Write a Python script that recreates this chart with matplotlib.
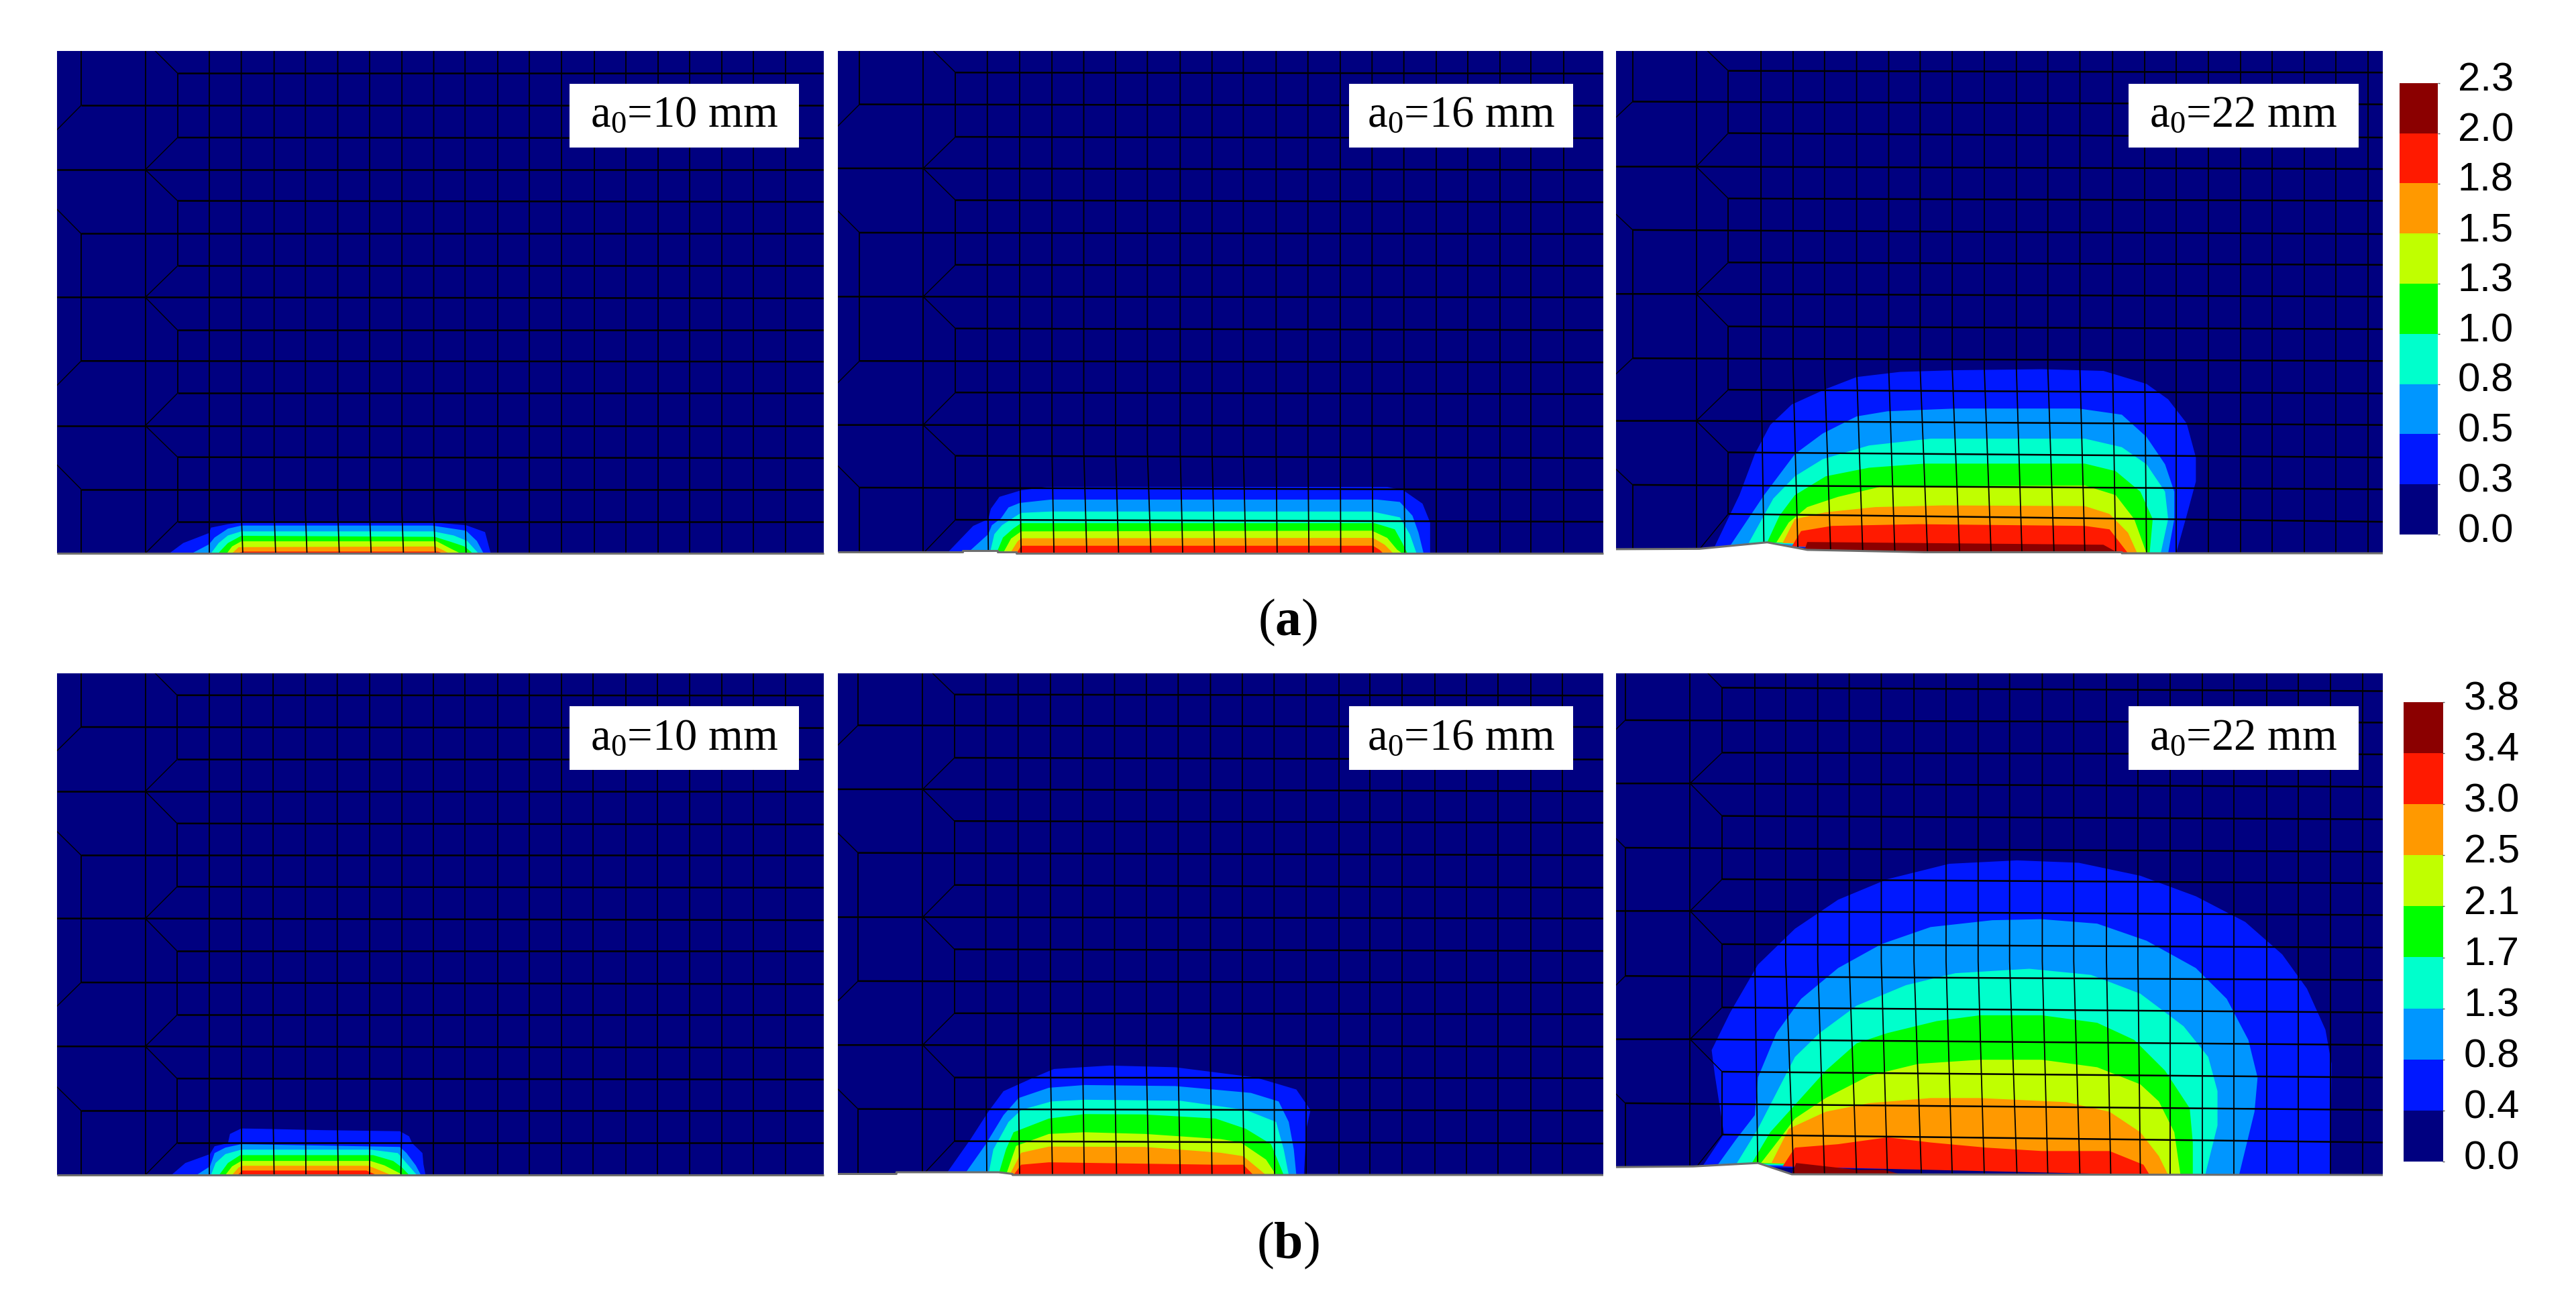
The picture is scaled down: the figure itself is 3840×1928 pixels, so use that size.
import numpy as np
import matplotlib
matplotlib.use("Agg")
import matplotlib.pyplot as plt
from matplotlib.colors import ListedColormap
from matplotlib.patches import Polygon, Rectangle

plt.rcParams['mathtext.fontset'] = 'custom'
plt.rcParams['mathtext.rm'] = 'Liberation Serif'
plt.rcParams['mathtext.bf'] = 'Liberation Serif:bold'
plt.rcParams['mathtext.default'] = 'regular'

W, H = 3841, 1928

# couleurs des bandes, du plus faible au plus fort
band_colors = ['#000080', '#0018FF', '#0096FF', '#00FFCC', '#00FF00',
               '#C0FF00', '#FF9900', '#FF1A00', '#8B0000']
ticks_a = ['0.0', '0.3', '0.5', '0.8', '1.0', '1.3', '1.5', '1.8', '2.0', '2.3']
ticks_b = ['0.0', '0.4', '0.8', '1.3', '1.7', '2.1', '2.5', '3.0', '3.4', '3.8']

# ---- a0=10 mm, ligne (a)
a1_xv = [80, 205, 268, 330, 392, 456, 517, 580, 642, 705, 767, 828, 892, 953, 1016, 1080, 1142, 1204, 1265, 1328, 1390, 1452]
a1_xb = [330, 395, 459, 520, 583, 645, 708, 770, 830]
a1_yl = [97, 191, 285, 379, 470, 566, 660, 752, 848, 938, 1032, 1127, 1219, 1313, 1407]
a1_yr = [97, 191, 287, 379, 473, 566, 660, 755, 848, 940, 1032, 1127, 1222, 1313, 1407]
a1_lip = [(33, 1500), (1527, 1500)]
a1_bands = [
    [(252, 1500), (279, 1470), (329, 1441), (333, 1425), (366, 1415), (392, 1410), (766, 1410), (830, 1418), (867, 1438), (878, 1500)],
    [(296, 1500), (329, 1474), (340, 1454), (366, 1428), (392, 1419), (764, 1419), (830, 1434), (851, 1464), (864, 1500)],
    [(333, 1500), (348, 1470), (366, 1448), (392, 1436), (766, 1436), (806, 1448), (832, 1464), (854, 1500)],
    [(347, 1500), (366, 1470), (392, 1449), (769, 1452), (801, 1467), (827, 1480), (843, 1500)],
    [(364, 1500), (374, 1480), (392, 1465), (773, 1465), (801, 1487), (819, 1500)],
    [(374, 1500), (387, 1482), (770, 1480), (784, 1490), (797, 1500)],
    [(385, 1500), (394, 1495), (775, 1495), (786, 1500)],
]

# ---- a0=16 mm, ligne (a)
a2_xv = [55, 181, 245, 308, 372, 436, 499, 562, 625, 690, 753, 815, 880, 943, 1007, 1070, 1133, 1197, 1260, 1323, 1385, 1450]
a2_xb = [310, 375, 440, 505, 568, 632, 695, 758, 820, 882, 945, 1008, 1072, 1135]
a2_yl = [95, 188, 283, 375, 468, 563, 657, 750, 843, 938, 1030, 1125, 1215, 1308, 1402]
a2_yr = [98, 192, 287, 380, 474, 567, 660, 752, 848, 942, 1035, 1129, 1222, 1315, 1408]
a2_lip = [(12, 1496), (259, 1496), (259, 1493), (328, 1493), (328, 1497), (366, 1497), (366, 1500), (1528, 1500)]
a2_bands = [
    [(228, 1500), (280, 1420), (310, 1400), (315, 1370), (332, 1335), (375, 1316), (425, 1306), (1100, 1306), (1132, 1316), (1170, 1355), (1185, 1410), (1185, 1500)],
    [(268, 1500), (310, 1444), (317, 1418), (335, 1398), (350, 1366), (372, 1353), (434, 1343), (1080, 1343), (1125, 1350), (1150, 1390), (1162, 1440), (1172, 1500)],
    [(313, 1500), (322, 1444), (337, 1418), (364, 1392), (375, 1382), (434, 1378), (1070, 1378), (1125, 1395), (1145, 1445), (1158, 1500)],
    [(326, 1500), (339, 1454), (359, 1428), (375, 1412), (1075, 1412), (1115, 1430), (1130, 1470), (1140, 1500)],
    [(339, 1500), (355, 1457), (375, 1436), (1070, 1434), (1100, 1455), (1120, 1490), (1130, 1500)],
    [(353, 1500), (368, 1465), (375, 1456), (1072, 1455), (1095, 1475), (1112, 1500)],
    [(366, 1500), (375, 1478), (1072, 1478), (1085, 1490), (1092, 1500)],
]

# ---- a0=22 mm, ligne (a)
a3_xv = [37, 140, 192, 245, 297, 348, 400, 452, 503, 555, 607, 659, 710, 762, 815, 867, 918, 970, 1022, 1074, 1126, 1177, 1229]
a3_xb = [250, 305, 358, 410, 462, 515, 567, 618, 668, 720, 770, 820, 870]
a3_yl = [90, 180, 272, 370, 463, 555, 650, 742, 837, 930, 1022, 1113, 1205, 1300, 1385]
a3_yr = [95, 188, 285, 377, 470, 567, 657, 750, 845, 938, 1033, 1125, 1220, 1313, 1408]
a3_lip = [(10, 1488), (145, 1487), (255, 1468), (320, 1490), (510, 1497), (830, 1497), (830, 1500), (1253, 1500)]
a3_bands = [
    [(170, 1480), (210, 1330), (235, 1210), (260, 1125), (295, 1065), (350, 1020), (400, 985), (470, 970), (560, 965), (700, 962), (800, 967), (870, 1005), (905, 1050), (935, 1120), (950, 1220), (950, 1290), (935, 1390), (918, 1500)],
    [(195, 1478), (250, 1330), (300, 1210), (345, 1150), (400, 1100), (450, 1085), (560, 1077), (760, 1077), (830, 1095), (870, 1160), (900, 1240), (915, 1320), (915, 1400), (905, 1500)],
    [(225, 1470), (265, 1340), (300, 1275), (345, 1225), (420, 1185), (520, 1165), (770, 1165), (830, 1190), (870, 1240), (900, 1320), (905, 1400), (893, 1500)],
    [(255, 1468), (275, 1390), (300, 1330), (350, 1275), (420, 1250), (510, 1238), (770, 1238), (820, 1260), (860, 1320), (880, 1400), (875, 1500)],
    [(270, 1468), (290, 1410), (320, 1365), (370, 1335), (440, 1305), (770, 1302), (820, 1330), (850, 1400), (870, 1500)],
    [(280, 1470), (300, 1400), (350, 1380), (430, 1365), (540, 1360), (770, 1362), (810, 1385), (840, 1440), (855, 1500)],
    [(295, 1480), (310, 1435), (360, 1420), (500, 1415), (770, 1420), (810, 1430), (840, 1500)],
    [(315, 1495), (320, 1467), (500, 1470), (800, 1475), (825, 1500)],
]

# ---- a0=10 mm, ligne (b)
b1_xv = [80, 205, 267, 330, 393, 454, 517, 579, 642, 705, 766, 828, 892, 953, 1016, 1078, 1142, 1203, 1265, 1328, 1390, 1452]
b1_xb = [330, 393, 456, 518, 581, 642, 703]
b1_yl = [72, 165, 260, 353, 447, 540, 632, 725, 820, 912, 1007, 1099, 1193, 1287, 1381]
b1_yr = [73, 168, 260, 353, 450, 540, 635, 730, 820, 917, 1007, 1103, 1196, 1287, 1381]
b1_lip = [(33, 1475), (1527, 1475)]
b1_bands = [
    [(256, 1475), (283, 1440), (331, 1414), (340, 1391), (366, 1382), (370, 1355), (392, 1339), (431, 1340), (553, 1344), (701, 1347), (719, 1362), (725, 1382), (745, 1411), (747, 1444), (751, 1475)],
    [(305, 1475), (331, 1450), (340, 1411), (361, 1395), (392, 1385), (701, 1393), (714, 1411), (732, 1447), (742, 1475)],
    [(333, 1475), (342, 1440), (361, 1414), (392, 1401), (644, 1401), (697, 1411), (716, 1444), (734, 1475)],
    [(349, 1475), (366, 1440), (390, 1417), (649, 1417), (688, 1434), (705, 1453), (719, 1475)],
    [(361, 1475), (374, 1450), (392, 1434), (644, 1434), (671, 1447), (701, 1470), (705, 1475)],
    [(374, 1475), (387, 1453), (394, 1448), (640, 1448), (684, 1475)],
    [(385, 1475), (394, 1462), (636, 1462), (655, 1475)],
]

# ---- a0=16 mm, ligne (b)
b2_xv = [52, 180, 243, 305, 369, 433, 497, 560, 623, 686, 750, 813, 876, 940, 1004, 1066, 1130, 1194, 1257, 1320, 1384, 1447]
b2_xb = [307, 372, 437, 500, 564, 628, 690, 753, 817, 877]
b2_yl = [70, 160, 255, 347, 440, 533, 627, 721, 815, 908, 1002, 1095, 1190, 1282, 1376]
b2_yr = [73, 165, 260, 353, 445, 540, 635, 725, 820, 913, 1005, 1100, 1192, 1287, 1383]
b2_lip = [(12, 1472), (128, 1472), (128, 1467), (330, 1467), (358, 1472), (358, 1475), (1528, 1475)]
b2_bands = [
    [(225, 1475), (275, 1370), (310, 1290), (340, 1230), (400, 1190), (440, 1165), (550, 1155), (680, 1160), (840, 1190), (920, 1225), (948, 1285), (940, 1340), (935, 1475)],
    [(262, 1475), (305, 1385), (340, 1300), (370, 1250), (430, 1220), (500, 1212), (680, 1215), (830, 1235), (885, 1260), (905, 1320), (915, 1400), (920, 1475)],
    [(310, 1475), (320, 1400), (350, 1320), (375, 1285), (435, 1260), (500, 1255), (690, 1258), (820, 1285), (880, 1320), (895, 1400), (905, 1475)],
    [(330, 1475), (345, 1400), (360, 1350), (430, 1310), (500, 1297), (620, 1298), (760, 1310), (820, 1340), (870, 1385), (895, 1475)],
    [(345, 1475), (365, 1390), (430, 1355), (500, 1350), (620, 1355), (770, 1370), (810, 1380), (860, 1430), (880, 1475)],
    [(352, 1475), (375, 1410), (430, 1392), (620, 1393), (770, 1410), (815, 1420), (860, 1475)],
    [(360, 1475), (375, 1445), (430, 1438), (760, 1445), (815, 1445), (835, 1475)],
]

# ---- a0=22 mm, ligne (b)
b3_xv = [25, 130, 182, 235, 285, 337, 388, 440, 493, 545, 597, 648, 701, 752, 805, 856, 908, 960, 1012, 1065, 1116, 1168, 1220]
b3_xb = [240, 298, 348, 400, 450, 505, 555, 607, 660, 710, 762, 812, 860]
b3_yl = [50, 145, 240, 330, 425, 518, 610, 703, 800, 893, 985, 1078, 1173, 1265, 1357]
b3_yr = [60, 152, 245, 340, 435, 530, 622, 715, 810, 905, 1000, 1095, 1190, 1285, 1380]
b3_lip = [(10, 1452), (135, 1450), (240, 1440), (295, 1473), (1253, 1475)]
b3_bands = [
    [(150, 1450), (185, 1355), (170, 1180), (165, 1110), (195, 1000), (240, 860), (300, 755), (370, 670), (450, 610), (550, 565), (660, 555), (760, 562), (860, 600), (950, 660), (1030, 735), (1090, 830), (1130, 930), (1160, 1050), (1170, 1150), (1168, 1475)],
    [(175, 1445), (205, 1370), (235, 1300), (240, 1190), (270, 1060), (310, 960), (370, 870), (440, 800), (520, 750), (620, 730), (700, 727), (790, 740), (870, 790), (950, 870), (1000, 960), (1035, 1080), (1050, 1190), (1045, 1290), (1020, 1475)],
    [(205, 1443), (240, 1340), (260, 1270), (300, 1130), (340, 1060), (400, 980), (480, 920), (560, 885), (680, 872), (780, 890), (860, 945), (930, 1040), (970, 1130), (985, 1230), (985, 1330), (965, 1475)],
    [(230, 1441), (260, 1350), (300, 1270), (350, 1170), (400, 1090), (450, 1060), (530, 1025), (600, 1008), (700, 1008), (790, 1030), (850, 1080), (900, 1170), (940, 1280), (945, 1380), (945, 1475)],
    [(245, 1440), (275, 1370), (300, 1310), (350, 1250), (420, 1185), (500, 1150), (600, 1138), (700, 1138), (790, 1160), (860, 1210), (890, 1260), (915, 1350), (925, 1475)],
    [(262, 1440), (290, 1340), (350, 1290), (420, 1265), (520, 1250), (600, 1250), (740, 1262), (810, 1290), (860, 1350), (890, 1420), (905, 1475)],
    [(280, 1450), (300, 1395), (370, 1385), (450, 1365), (520, 1380), (610, 1395), (700, 1405), (810, 1405), (865, 1445), (875, 1475)],
    [(295, 1472), (302, 1440), (400, 1460), (445, 1460), (475, 1475)],
]

lw_h, lw_v, lw_d = 1.8, 1.3, 1.0


def panel(box, xlim, ylim, lip, xv, xb, yl, yr, kink, bands, lab, label):
    # box en pixels : gauche, haut, droite, bas
    ax = fig.add_axes([box[0]/W, 1-box[3]/H, (box[2]-box[0])/W, (box[3]-box[1])/H])
    ax.set_xlim(xlim)
    ax.set_ylim(ylim[1], ylim[0])
    ax.axis('off')

    contour = [(xlim[0], ylim[0]), (xlim[1], ylim[0])] + lip[::-1]
    fond = Polygon(contour, closed=True, fc=band_colors[0], ec='none', zorder=1)
    ax.add_patch(fond)

    for i, b in enumerate(bands):
        p = Polygon(b, closed=True, fc=band_colors[i+1], ec='none', zorder=2)
        ax.add_patch(p)
        p.set_clip_path(fond)

    lignes = []
    bas = ylim[1]
    row = yl[1] - yl[0]
    pas = xv[3] - xv[2]
    # maillage : colonnes de transition à gauche
    lignes.append(([xv[0], xv[0]], [ylim[0], yl[1]], lw_v))
    lignes.append(([xv[0], xv[0]], [yl[5], yl[9]], lw_v))
    lignes.append(([xv[0], xv[0]], [yl[13], bas], lw_v))
    lignes.append(([xv[1], xv[1]], [ylim[0], bas], lw_v))
    for j in [0, 4, 8, 12]:
        lignes.append(([xv[2], xv[2]], [yl[j], yl[j+2]], lw_v))
    # colonnes régulières
    xb_all = list(xb) + list(xv[3+len(xb):])
    for x, x2 in zip(xv[3:], xb_all):
        lignes.append(([x, x, x2], [ylim[0], kink, bas], lw_v))
    # lignes horizontales
    for j in range(15):
        if j in (3, 7, 11):
            lignes.append(([xlim[0], xv[1], xlim[1]], [yl[j], yl[j], yr[j]], lw_h))
        elif j % 2 == 1:
            lignes.append(([xv[0], xlim[1]], [yl[j], yr[j]], lw_h))
            sens = 1 if j in (1, 9) else -1
            lignes.append(([xv[0], xv[0]-pas], [yl[j], yl[j]+sens*row], lw_d))
        else:
            lignes.append(([xv[2], xlim[1]], [yl[j], yr[j]], lw_h))
            # les noeuds à gauche sont sur les lignes 3, 7, 11
            if j == 0:
                cible = yl[0] - row
            elif j == 14:
                cible = bas
            else:
                cible = yl[j+1] if j in (2, 6, 10) else yl[j-1]
            lignes.append(([xv[2], xv[1]], [yl[j], cible], lw_d))
    for xs, ys, lw in lignes:
        l, = ax.plot(xs, ys, color='black', lw=lw, zorder=3, solid_capstyle='butt')
        l.set_clip_path(fond)

    # bord inférieur
    lx, ly = zip(*lip)
    ax.plot(lx, ly, color='#6E6E6E', lw=2.2, zorder=4, clip_on=False, solid_capstyle='butt')

    ax.add_patch(Rectangle((lab[0], lab[1]), lab[2]-lab[0], lab[3]-lab[1], fc='white', ec='none', zorder=5))
    ax.text((lab[0]+lab[2])/2, (lab[1]+lab[3])/2, label, ha='center', va='center', zorder=6,
            family='Liberation Serif', fontsize=48, color='black')


def barre(box, labels, dx):
    ax = fig.add_axes([box[0]/W, 1-box[3]/H, (box[2]-box[0])/W, (box[3]-box[1])/H])
    val = np.arange(len(band_colors))[::-1].reshape(-1, 1)
    ax.imshow(val, cmap=ListedColormap(band_colors), aspect='auto', extent=(0, 1, 0, len(band_colors)),
              interpolation='nearest', vmin=-0.5, vmax=len(band_colors)-0.5)
    for s in ax.spines.values():
        s.set_visible(False)
    ax.set_xticks([])
    ax.set_yticks(range(len(labels)))
    ax.yaxis.tick_right()
    ax.tick_params(axis='y', length=2.5, width=1, color='#555555', labelright=False)
    for i, t in enumerate(labels):
        ax.annotate(t, xy=(1, i), xycoords=('axes fraction', 'data'), xytext=(dx, 3),
                    textcoords='offset points', va='center', ha='left',
                    family='Liberation Sans', fontsize=43, color='black')


fig = plt.figure(figsize=(W/100, H/100), dpi=100)

ya, yb = (76, 825), (1004, 1752)
panel((85, ya[0], 1228, ya[1]), (33, 1527), (32, 1500), a1_lip, a1_xv, a1_xb, a1_yl, a1_yr, 1380, a1_bands,
      (1031, 128, 1479, 315), 'a$_0$=10 mm')
panel((1249, ya[0], 2390, ya[1]), (12, 1528), (32, 1500), a2_lip, a2_xv, a2_xb, a2_yl, a2_yr, 1200, a2_bands,
      (1025, 128, 1468, 315), 'a$_0$=16 mm')
panel((2409, ya[0], 3552, ya[1]), (10, 1253), (32, 1500), a3_lip, a3_xv, a3_xb, a3_yl, a3_yr, 960, a3_bands,
      (841, 128, 1214, 315), 'a$_0$=22 mm')
panel((85, yb[0], 1228, yb[1]), (33, 1527), (8, 1475), b1_lip, b1_xv, b1_xb, b1_yl, b1_yr, 1300, b1_bands,
      (1031, 105, 1479, 291), 'a$_0$=10 mm')
panel((1249, yb[0], 2390, yb[1]), (12, 1528), (8, 1475), b2_lip, b2_xv, b2_xb, b2_yl, b2_yr, 1150, b2_bands,
      (1025, 105, 1468, 291), 'a$_0$=16 mm')
panel((2409, yb[0], 3552, yb[1]), (10, 1253), (8, 1475), b3_lip, b3_xv, b3_xb, b3_yl, b3_yr, 850, b3_bands,
      (841, 105, 1214, 291), 'a$_0$=22 mm')

barre((3577, 124, 3634, 797), ticks_a, 21.5)
barre((3583, 1047, 3641, 1732), ticks_b, 23)

fig.text(1920/W, 1-928/H, r'($\mathbf{a}$)', ha='center', va='center', family='Liberation Serif', fontsize=56)
fig.text(1920/W, 1-1857/H, r'($\mathbf{b}$)', ha='center', va='center', family='Liberation Serif', fontsize=56)

fig.savefig('out.png', dpi=100, facecolor='white')
